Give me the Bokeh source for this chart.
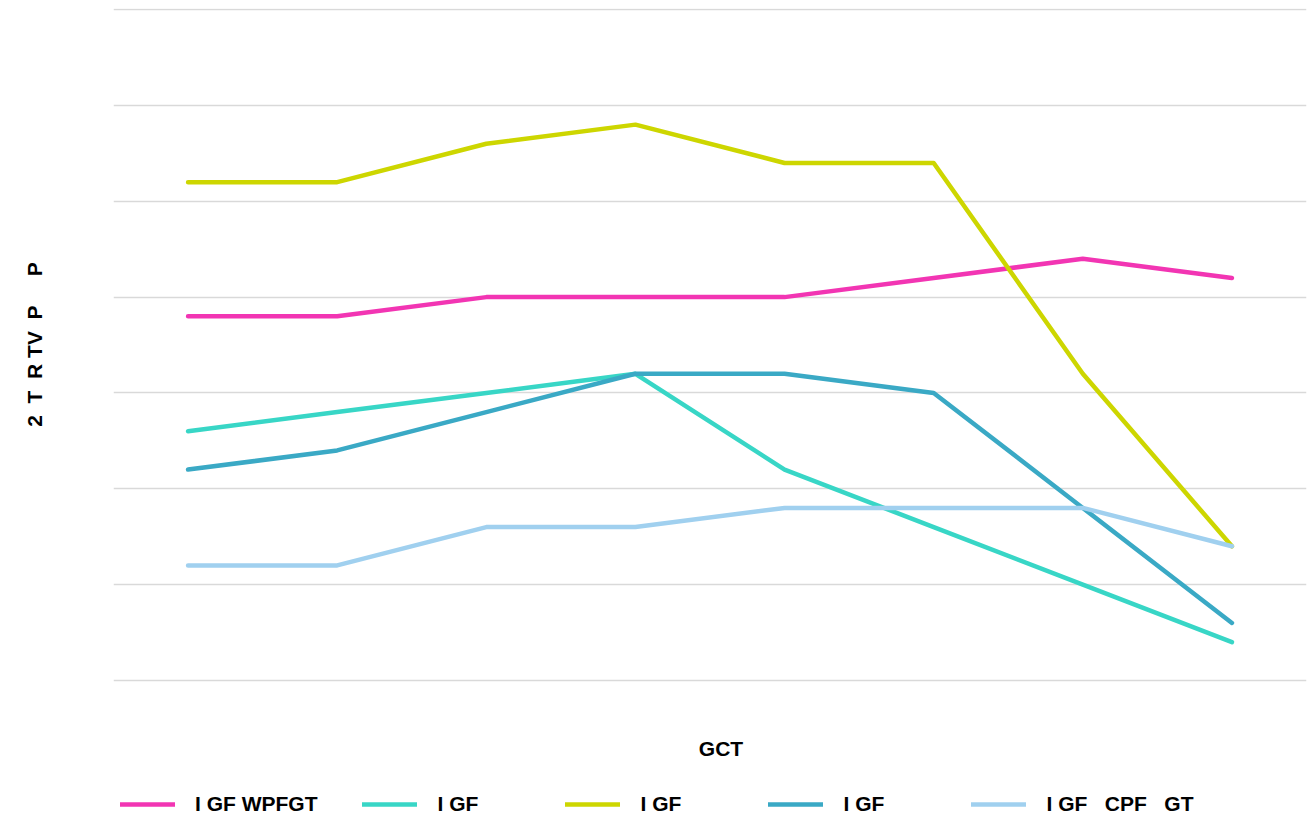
from bokeh.plotting import figure
from bokeh.models import Legend, LegendItem, Range1d, FixedTicker, Label
from bokeh.embed import file_html
from bokeh.resources import INLINE

x_idx = [0, 1, 2, 3, 4, 5, 6, 7]
series_names = ["I GF WPFGT", "I GF", "I GF", "I GF", "I GF\u00a0\u00a0\u00a0CPF\u00a0\u00a0\u00a0GT"]
pink = [19, 19, 20, 20, 20, 21, 22, 21]
teal = [13, 14, 15, 16, 11, 8, 5, 2]
yellow = [26, 26, 28, 29, 27, 27, 16, 7]
blue = [11, 12, 14, 16, 16, 15, 9, 3]
lightblue = [6, 6, 8, 8, 9, 9, 9, 7]
colors = ["#F235B3", "#38D6C6", "#CDD600", "#3AA9C5", "#A0D0EF"]
y_grid = [0, 5, 10, 15, 20, 25, 30, 35]
y_label = "\u00a0" * 24 + "2\u00a0\u00a0T\u00a0\u00a0R\u00a0TV\u00a0\u00a0P\u00a0\u00a0\u00a0\u00a0\u00a0P"
x_label = "GCT"

FONT = "Liberation Sans"
FS = "21px"

p = figure(frame_width=1193, frame_height=812, output_backend="svg", toolbar_location=None,
           x_range=Range1d(-0.5, 7.5), y_range=Range1d(-7.31, 35.06), x_axis_location=None,
           min_border_left=113, min_border_right=10, min_border_top=8, min_border_bottom=1)
p.outline_line_color = None

series = [pink, teal, yellow, blue, lightblue]
items = []
for name, ys, c in zip(series_names, series, colors):
    r = p.line(x_idx, ys, line_color=c, line_width=4.5, line_cap="round", line_join="round")
    items.append(LegendItem(label=name, renderers=[r]))

p.xgrid.grid_line_color = None
p.ygrid.ticker = FixedTicker(ticks=y_grid)
p.ygrid.grid_line_color = "#d9d9d9"
p.ygrid.grid_line_width = 1.5

ax = p.yaxis[0]
ax.ticker = FixedTicker(ticks=[])
ax.axis_line_color = None
ax.major_tick_line_color = None
ax.minor_tick_line_color = None
ax.axis_label = y_label
ax.axis_label_standoff = 68
ax.axis_label_text_font = FONT
ax.axis_label_text_font_style = "bold"
ax.axis_label_text_font_size = FS
ax.axis_label_text_color = "#000000"

xlab = Label(x=3.5, y=-3.55, text=x_label, text_align="center", text_baseline="middle",
             x_offset=11, text_font=FONT, text_font_style="bold", text_font_size=FS,
             text_color="#000000")
p.add_layout(xlab)

legend = Legend(items=items, orientation="horizontal", location=(7, 4),
                glyph_width=55, glyph_height=20, label_standoff=20, label_width=83,
                spacing=45, border_line_color=None, background_fill_alpha=0,
                label_text_font=FONT, label_text_font_style="bold",
                label_text_font_size=FS, label_text_color="#000000",
                padding=0, margin=0)
p.add_layout(legend, "center")

open("out.html", "w").write(file_html(p, INLINE))
